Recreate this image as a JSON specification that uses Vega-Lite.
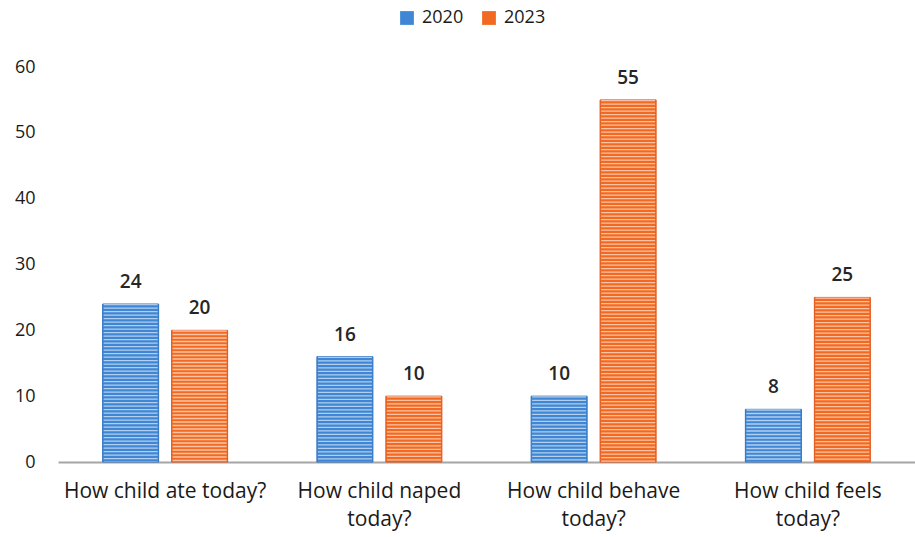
{
  "$schema": "https://vega.github.io/schema/vega-lite/v6.json",
  "autosize": "none",
  "width": 857,
  "height": 395,
  "padding": {"left": 58, "top": 67, "right": 0, "bottom": 75},
  "background": "white",
  "config": {"view": {"stroke": null}},
  "data": {
    "values": [
      {"question": "How child ate today?", "year": "2020", "value": 24},
      {"question": "How child ate today?", "year": "2023", "value": 20},
      {"question": "How child naped today?", "year": "2020", "value": 16},
      {"question": "How child naped today?", "year": "2023", "value": 10},
      {"question": "How child behave today?", "year": "2020", "value": 10},
      {"question": "How child behave today?", "year": "2023", "value": 55},
      {"question": "How child feels today?", "year": "2020", "value": 8},
      {"question": "How child feels today?", "year": "2023", "value": 25}
    ]
  },
  "encoding": {
    "x": {
      "field": "question",
      "type": "nominal",
      "sort": null,
      "scale": {"paddingInner": 0.4166, "paddingOuter": 0.2083},
      "axis": {
        "title": null,
        "labelAngle": 0,
        "labelFont": "Open Sans",
        "labelFontSize": 21,
        "labelColor": "#1a1a1a",
        "labelPadding": 18,
        "labelLineHeight": 28,
        "labelLimit": 400,
        "labelOverlap": false,
        "ticks": false,
        "domainColor": "#a6a6a6",
        "domainWidth": 2,
        "labelExpr": "datum.label == 'How child ate today?' ? datum.label : [replace(datum.label, ' today?', ''), 'today?']"
      }
    },
    "xOffset": {
      "field": "year",
      "type": "nominal",
      "scale": {"paddingInner": 0.188, "paddingOuter": 0}
    }
  },
  "layer": [
    {
      "mark": {"type": "bar", "strokeWidth": 1},
      "encoding": {
        "y": {
          "field": "value",
          "type": "quantitative",
          "scale": {"domain": [0, 60]},
          "axis": {
            "title": null,
            "grid": false,
            "domain": false,
            "ticks": false,
            "tickCount": 6,
            "labelFont": "Open Sans",
            "labelFontSize": 18,
            "labelColor": "#1a1a1a",
            "labelPadding": 23
          }
        },
        "color": {
          "field": "year",
          "type": "nominal",
          "scale": {"domain": ["2020", "2023"], "range": ["#3f87d5", "#f26a22"]},
          "legend": {
            "title": null,
            "orient": "none",
            "legendX": 340,
            "legendY": -58,
            "direction": "horizontal",
            "symbolType": "square",
            "symbolSize": 190,
            "symbolStrokeWidth": 0,
            "labelFont": "Open Sans",
            "labelFontSize": 18,
            "labelColor": "#1a1a1a",
            "columnPadding": 16,
            "labelOffset": 6
          }
        },
        "stroke": {
          "field": "year",
          "type": "nominal",
          "scale": {"domain": ["2020", "2023"], "range": ["#2f72c0", "#e0561a"]},
          "legend": null
        }
      }
    },
    {
      "mark": {"type": "rule", "color": "white", "strokeWidth": 54, "strokeDash": [1.3, 2.2], "opacity": 0.6},
      "encoding": {
        "y": {"field": "value", "type": "quantitative"},
        "y2": {"datum": 0}
      }
    },
    {
      "mark": {"type": "text", "baseline": "bottom", "dy": -12, "font": "Open Sans", "fontSize": 19, "fontWeight": 600, "color": "#262626"},
      "encoding": {
        "y": {"field": "value", "type": "quantitative"},
        "text": {"field": "value", "type": "quantitative"}
      }
    }
  ]
}
